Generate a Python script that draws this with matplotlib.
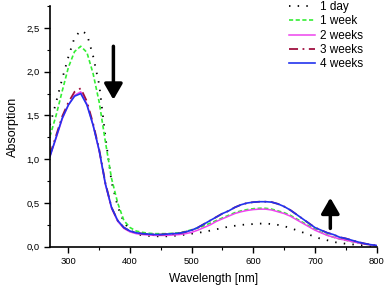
import numpy as np
import matplotlib
matplotlib.use('Agg')
import matplotlib.pyplot as plt
from matplotlib.ticker import MultipleLocator, FuncFormatter

plt.rcParams['font.family'] = ['Liberation Sans', 'DejaVu Sans']

# wavelength grid [nm]
wavelength = list(range(270, 801, 10))

# absorption, one value per 10 nm
day_1 = [1.39, 1.65, 1.92, 2.17, 2.39, 2.47, 2.43, 2.18, 1.85, 1.26,
         0.74, 0.46, 0.28, 0.19, 0.15, 0.13, 0.125, 0.12, 0.12, 0.12,
         0.125, 0.13, 0.14, 0.15, 0.16, 0.17, 0.185, 0.20, 0.215, 0.23,
         0.24, 0.25, 0.255, 0.26, 0.265, 0.265, 0.26, 0.25, 0.235, 0.215,
         0.19, 0.165, 0.14, 0.115, 0.09, 0.075, 0.055, 0.045, 0.035, 0.028,
         0.022, 0.017, 0.012, 0.008]
week_1 = [1.26, 1.50, 1.78, 2.05, 2.23, 2.29, 2.22, 1.98, 1.65, 1.20,
          0.78, 0.50, 0.30, 0.22, 0.18, 0.165, 0.155, 0.15, 0.15, 0.15,
          0.155, 0.16, 0.175, 0.195, 0.215, 0.24, 0.27, 0.30, 0.33, 0.36,
          0.39, 0.41, 0.425, 0.435, 0.44, 0.44, 0.43, 0.41, 0.39, 0.36,
          0.32, 0.28, 0.24, 0.20, 0.165, 0.135, 0.11, 0.09, 0.075, 0.06,
          0.045, 0.032, 0.022, 0.013]
weeks_2 = [1.03, 1.24, 1.46, 1.62, 1.73, 1.77, 1.63, 1.39, 1.09, 0.71,
           0.44, 0.29, 0.21, 0.17, 0.15, 0.14, 0.135, 0.13, 0.13, 0.13,
           0.135, 0.14, 0.15, 0.165, 0.19, 0.22, 0.25, 0.29, 0.32, 0.35,
           0.38, 0.40, 0.415, 0.425, 0.43, 0.43, 0.42, 0.40, 0.38, 0.35,
           0.31, 0.27, 0.23, 0.19, 0.16, 0.13, 0.11, 0.09, 0.075, 0.06,
           0.045, 0.032, 0.022, 0.013]
weeks_3 = [1.05, 1.27, 1.49, 1.65, 1.77, 1.81, 1.66, 1.41, 1.11, 0.73,
           0.45, 0.30, 0.22, 0.18, 0.16, 0.15, 0.145, 0.14, 0.14, 0.145,
           0.15, 0.155, 0.17, 0.19, 0.22, 0.26, 0.30, 0.34, 0.38, 0.41,
           0.45, 0.48, 0.50, 0.51, 0.515, 0.515, 0.51, 0.49, 0.46, 0.42,
           0.37, 0.32, 0.27, 0.22, 0.19, 0.16, 0.14, 0.11, 0.095, 0.075,
           0.055, 0.038, 0.025, 0.015]
weeks_4 = [1.03, 1.25, 1.47, 1.62, 1.72, 1.75, 1.62, 1.39, 1.10, 0.72,
           0.45, 0.30, 0.22, 0.18, 0.16, 0.15, 0.145, 0.14, 0.14, 0.145,
           0.15, 0.155, 0.17, 0.19, 0.22, 0.26, 0.30, 0.34, 0.38, 0.41,
           0.45, 0.48, 0.50, 0.51, 0.515, 0.515, 0.51, 0.49, 0.46, 0.42,
           0.37, 0.32, 0.27, 0.22, 0.19, 0.16, 0.14, 0.11, 0.095, 0.075,
           0.055, 0.038, 0.025, 0.015]

labels = ['1 day', '1 week', '2 weeks', '3 weeks', '4 weeks']

fig = plt.figure(figsize=(3.87, 2.85), dpi=100)
ax = fig.add_axes([0.129, 0.134, 0.844, 0.845])

ax.plot(wavelength, day_1, color='black', lw=1.3, linestyle=(0, (0.8, 4)), label=labels[0])
ax.plot(wavelength, week_1, color='#33ee33', lw=1.2, linestyle=(0, (2.5, 1.5)), label=labels[1])
ax.plot(wavelength, weeks_2, color='#ee44ee', lw=1.1, label=labels[2])
ax.plot(wavelength, weeks_3, color='#a01040', lw=1.3, linestyle=(0, (5, 2.5, 1, 2.5)), label=labels[3])
ax.plot(wavelength, weeks_4, color='#2233ee', lw=1.2, label=labels[4])

# trend arrows
arrow_kw = dict(arrowstyle='-|>,head_width=0.55,head_length=0.95', lw=2.5,
                color='black', shrinkA=0, shrinkB=0)
ax.annotate('', xy=(373, 1.68), xytext=(373, 2.29), arrowprops=arrow_kw)
ax.annotate('', xy=(725, 0.56), xytext=(725, 0.21), arrowprops=arrow_kw)

ax.set_xlim(270, 800)
ax.set_ylim(0, 2.75)
ax.xaxis.set_major_locator(MultipleLocator(100))
ax.xaxis.set_minor_locator(MultipleLocator(50))
ax.yaxis.set_major_locator(MultipleLocator(0.5))
ax.yaxis.set_minor_locator(MultipleLocator(0.25))
ax.yaxis.set_major_formatter(FuncFormatter(lambda v, p: f'{v:.1f}'.replace('.', ',')))

for s in ['top', 'right']:
    ax.spines[s].set_visible(False)
for s in ['left', 'bottom']:
    ax.spines[s].set_linewidth(1.2)
ax.tick_params(which='major', direction='out', length=4, width=1, labelsize=6.8)
ax.tick_params(which='minor', direction='out', length=2.5, width=0.8)

ax.set_xlabel('Wavelength [nm]', fontsize=8.6, labelpad=5)
ax.set_ylabel('Absorption', fontsize=9, labelpad=5)

ax.legend(loc='upper right', bbox_to_anchor=(0.99, 1.065), frameon=False, fontsize=8.5,
          handlelength=2.2, handletextpad=0.4, labelspacing=0.2)

fig.savefig('out.png', dpi=100)
